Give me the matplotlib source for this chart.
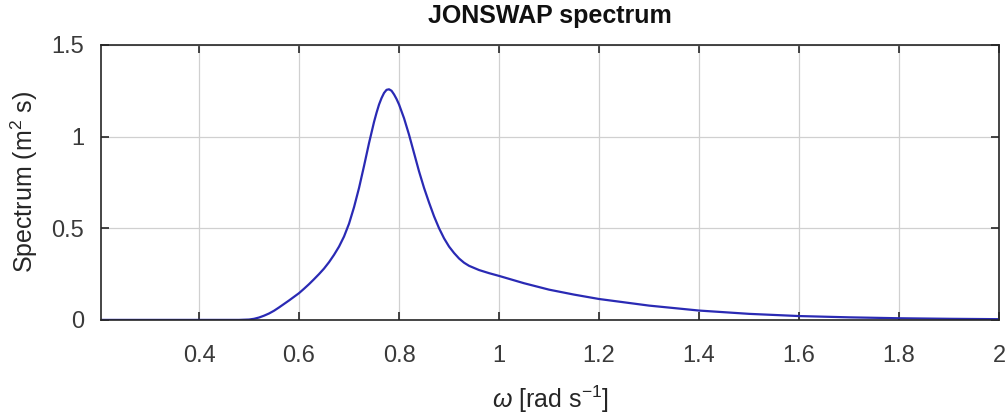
import matplotlib
matplotlib.use("Agg")
import matplotlib.pyplot as plt

# values
omega = [0.2, 0.45, 0.48, 0.5, 0.51, 0.52, 0.53, 0.54, 0.55, 0.56, 0.57, 0.58, 0.59,
         0.6, 0.61, 0.62, 0.63, 0.64, 0.65, 0.66, 0.67, 0.68, 0.69, 0.70, 0.71,
         0.72, 0.73, 0.74, 0.75, 0.755, 0.76, 0.765, 0.77, 0.775, 0.78, 0.785,
         0.79, 0.795, 0.80, 0.81, 0.82, 0.83, 0.84, 0.85, 0.86, 0.87, 0.88,
         0.89, 0.90, 0.91, 0.92, 0.93, 0.94, 0.96, 0.98, 1.0, 1.05, 1.1, 1.15,
         1.2, 1.3, 1.4, 1.5, 1.6, 1.7, 1.8, 1.9, 2.0]
spectrum = [0.0, 0.0, 0.0, 0.002, 0.006, 0.013, 0.023, 0.035, 0.05, 0.068, 0.087, 0.106, 0.126,
            0.146, 0.17, 0.195, 0.222, 0.25, 0.28, 0.315, 0.355, 0.40, 0.455, 0.525, 0.615,
            0.72, 0.84, 0.965, 1.08, 1.13, 1.175, 1.21, 1.238, 1.255, 1.258, 1.25,
            1.23, 1.205, 1.175, 1.10, 1.01, 0.91, 0.81, 0.72, 0.64, 0.565, 0.50,
            0.445, 0.40, 0.365, 0.335, 0.312, 0.295, 0.272, 0.255, 0.24, 0.20, 0.165, 0.138,
            0.114, 0.078, 0.051, 0.033, 0.021, 0.014, 0.009, 0.006, 0.004]
xticks = [0.4, 0.6, 0.8, 1.0, 1.2, 1.4, 1.6, 1.8, 2.0]
xticklabels = ['0.4', '0.6', '0.8', '1', '1.2', '1.4', '1.6', '1.8', '2']
yticks = [0, 0.5, 1.0, 1.5]
yticklabels = ['0', '0.5', '1', '1.5']

plt.rcParams['font.family'] = ['Liberation Sans', 'DejaVu Sans']
plt.rcParams['mathtext.fontset'] = 'custom'
plt.rcParams['mathtext.rm'] = 'Liberation Sans'
plt.rcParams['mathtext.it'] = 'Liberation Sans:italic'

fig = plt.figure(figsize=(10.08, 4.16), dpi=100)
ax = fig.add_axes([0.1002, 0.231, 0.891, 0.661])

ax.plot(omega, spectrum, color='#2a2ab4', linewidth=1.6)

ax.set_xlim(0.204, 2.0)
ax.set_ylim(0, 1.5)
ax.set_xticks(xticks)
ax.set_xticklabels(xticklabels)
ax.set_yticks(yticks)
ax.set_yticklabels(yticklabels)

dark = '#262626'
ax.tick_params(direction='in', top=True, right=True, length=6, width=1.2,
               colors=dark, labelsize=17, labelcolor='#3a3a3a')
ax.tick_params(axis='x', pad=18)
ax.tick_params(axis='y', pad=12)
for s in ax.spines.values():
    s.set_color(dark)
    s.set_linewidth(1.2)
ax.grid(True, color='#d0d0d0', linewidth=0.9)
ax.set_axisbelow(True)

ax.set_title('JONSWAP spectrum', fontsize=18, fontweight='bold', color='#111111', pad=16)
ax.set_xlabel(r'$\omega$ [rad s$^{-1}$]', fontsize=18, color=dark, labelpad=12)
ax.set_ylabel(r'Spectrum (m$^2$ s)', fontsize=18, color=dark, labelpad=8)

plt.savefig('out.png', dpi=100)
